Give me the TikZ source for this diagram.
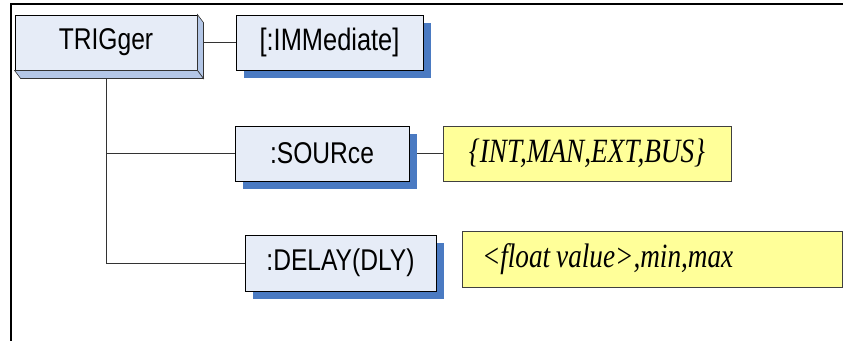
\documentclass[tikz,border=0pt]{standalone}
\usepackage{fontspec}
\newfontfamily\cmdfont[FakeStretch=0.82]{Liberation Sans}
\newfontfamily\valfont[FakeStretch=0.8]{Liberation Serif}
\usetikzlibrary{shadows,backgrounds}
\definecolor{frontblue}{HTML}{E6ECF7}
\definecolor{sideblue}{HTML}{B4C7E7}
\definecolor{shadeblue}{HTML}{4A7AC2}
\definecolor{valyellow}{HTML}{FFFF99}
\tikzset{
  cmdbox/.style={draw=black, fill=frontblue, line width=0.9pt, inner sep=0pt,
    minimum height=55pt, font=\cmdfont\fontsize{30}{32}\selectfont},
  cmdshade/.style={cmdbox, drop shadow={shadow xshift=8pt, shadow yshift=-8pt,
    fill=shadeblue, opacity=1}},
  valbox/.style={draw=black!75, fill=valyellow, line width=0.9pt, inner sep=0pt,
    minimum height=55pt, font=\valfont\itshape\fontsize{34}{36}\selectfont},
  face/.style={fill=sideblue, draw=black!80, line width=0.6pt},
  link/.style={draw=black!80, line width=0.9pt}
}
\begin{document}
\begin{tikzpicture}[x=1pt,y=-1pt]
\useasboundingbox (0,0) rectangle (843,341);
% frame
\draw[line width=2pt] (843,4) -- (11,4) -- (11,341);
% commands
\node[cmdbox, minimum width=182pt] (trig) at (106,42.5) {TRIGger};
\node[cmdshade, minimum width=187pt, font=\cmdfont\fontsize{31}{33}\selectfont] (imm) at (329.5,42.5) {[:IMMediate]};
\node[cmdshade, minimum width=174pt] (src) at (322,153.5) {:SOURce};
\node[cmdshade, minimum width=191pt, minimum height=56pt] (dly) at (340.5,263) {:DELAY(DLY)};
% parameters
\node[valbox, minimum width=288pt] (srcval) at (587,153.5) {\{INT,MAN,EXT,BUS\}};
\node[valbox, minimum height=56pt, inner xsep=20pt, text width=340pt, align=left] (dlyval) at (652,259) {<float\hspace{6pt}value>,min,max};
% 3d sides of the root box
\filldraw[face] (trig.north east) -- ++(6,8) -- ([shift={(6,8)}]trig.south east) -- (trig.south east) -- cycle;
\filldraw[face] (trig.south west) -- ([shift={(6,8)}]trig.south west) -- ([shift={(6,8)}]trig.south east) -- (trig.south east) -- cycle;
\begin{pgfonlayer}{background}
\draw[link] (trig.east) -- (imm.west);
\draw[link] (trig.south) |- (src.west);
\draw[link] (trig.south) |- (dly.west);
\draw[link] (src.east) -- (srcval.west);
\end{pgfonlayer}
\end{tikzpicture}
\end{document}
